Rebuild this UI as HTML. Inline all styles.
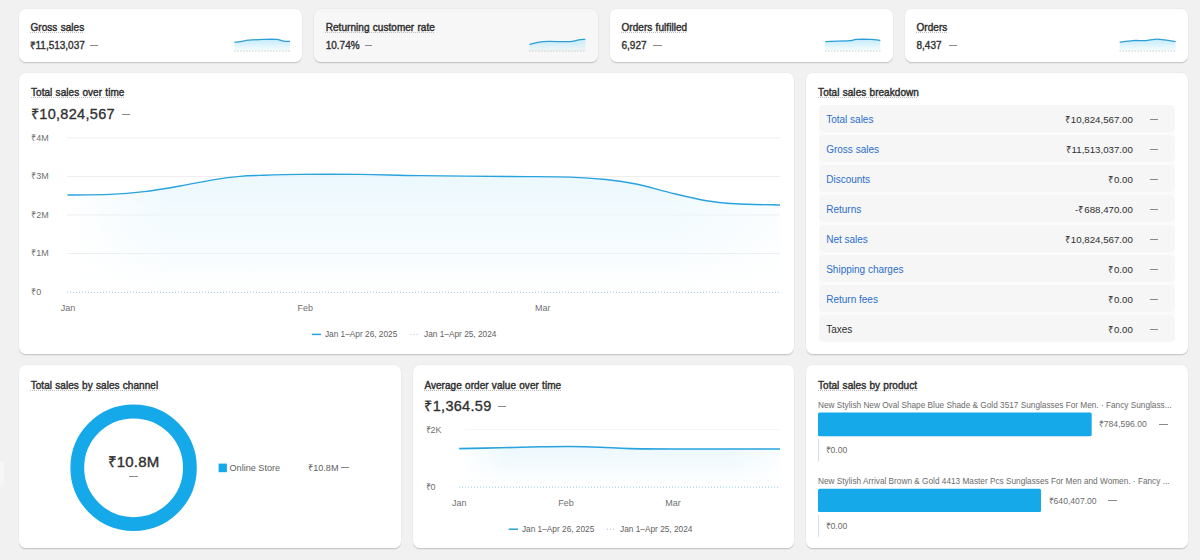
<!DOCTYPE html>
<html><head><meta charset="utf-8"><style>
*{box-sizing:border-box;margin:0;padding:0}
html,body{width:1200px;height:560px;overflow:hidden;background:#f1f1f1;font-family:"Liberation Sans",sans-serif;color:#303030;position:relative}
.card{position:absolute;border-radius:6.5px;box-shadow:0 1px 0 rgba(0,0,0,.1),0 1.5px 1px rgba(0,0,0,.05),0 0 0 .5px rgba(0,0,0,.04)}
.t{position:absolute;white-space:nowrap;line-height:12px}
.ttl{font-size:10px;word-spacing:.4px;letter-spacing:.05px;color:#303030;-webkit-text-stroke:.42px #303030}
.ttl span{text-decoration:underline dotted #bdbdbd;text-decoration-thickness:1px;text-underline-offset:1.2px;text-decoration-skip-ink:none}
.val{font-size:10px;letter-spacing:0;color:#303030;-webkit-text-stroke:.35px #303030}
.big{font-size:14.5px;letter-spacing:.3px;line-height:18px;color:#303030;-webkit-text-stroke:.32px #303030}
.donut{font-size:15px;letter-spacing:.2px;line-height:18px;color:#303030;-webkit-text-stroke:.38px #303030}
.dash{position:absolute;height:1px}
.ax{font-size:9px;color:#707070}
.lg{font-size:8.3px;color:#616161}
.brow{position:absolute;left:818.5px;width:356.5px;height:27.5px;background:#f6f6f6;border-radius:5px}
.bwrap{position:absolute;left:818.5px;top:104.6px;width:356.5px;height:237.5px;background:#fbfbfb;border-radius:5px}
.bn{font-size:10px;color:#2c6ecb}
.bn.tx{color:#303030}
.bv{font-size:9.7px;color:#303030}
.leg2{font-size:9.1px;color:#616161}
.pn{font-size:8.25px;color:#6b6b6b}
.pv{font-size:8.6px;color:#6b6b6b}
</style></head><body>
<div style="position:absolute;left:0;top:462px;width:3.5px;height:23px;background:#f6f6f6;border-radius:0 3px 3px 0"></div><div class="card" style="left:19px;top:9px;width:283px;height:52.7px;background:#fff"></div>
<div class="card" style="left:314px;top:9px;width:284px;height:52.7px;background:#f7f7f7"></div>
<div class="card" style="left:610px;top:9px;width:283px;height:52.7px;background:#fff"></div>
<div class="card" style="left:905px;top:9px;width:283px;height:52.7px;background:#fff"></div>
<div class="card" style="left:19px;top:73.4px;width:775px;height:280.4px;background:#fff"></div>
<div class="card" style="left:806px;top:73.4px;width:382px;height:280.4px;background:#fff"></div>
<div class="card" style="left:19px;top:364.9px;width:382px;height:183.5px;background:#fff"></div>
<div class="card" style="left:413px;top:364.9px;width:381px;height:183.5px;background:#fff"></div>
<div class="card" style="left:806px;top:364.9px;width:382px;height:183.5px;background:#fff"></div>
<svg style="position:absolute;left:0;top:0" width="1200" height="560" viewBox="0 0 1200 560"><defs><linearGradient id="gm" x1="0" y1="0" x2="0" y2="1"><stop offset="0" stop-color="#e9f7fd" stop-opacity=".85"/><stop offset=".6" stop-color="#e9f7fd" stop-opacity=".4"/><stop offset="1" stop-color="#e9f7fd" stop-opacity="0"/></linearGradient><linearGradient id="gh" x1="0" y1="0" x2="1" y2="0"><stop offset="0" stop-color="#fff" stop-opacity="0"/><stop offset=".14" stop-color="#fff" stop-opacity="1"/><stop offset=".85" stop-color="#fff" stop-opacity="1"/><stop offset="1" stop-color="#fff" stop-opacity=".3"/></linearGradient><mask id="mm" maskUnits="userSpaceOnUse" x="0" y="0" width="1200" height="560"><rect x="67" y="100" width="713" height="200" fill="url(#gh)"/></mask><mask id="ma" maskUnits="userSpaceOnUse" x="0" y="0" width="1200" height="560"><rect x="459" y="400" width="321" height="100" fill="url(#gh)"/></mask><linearGradient id="gs" x1="0" y1="0" x2="0" y2="1"><stop offset="0" stop-color="#c4ebfa" stop-opacity="1"/><stop offset="1" stop-color="#c4ebfa" stop-opacity=".1"/></linearGradient></defs><line x1="67" x2="780" y1="137.9" y2="137.9" stroke="#eeeeee" stroke-width="1"/><line x1="67" x2="780" y1="176.5" y2="176.5" stroke="#eeeeee" stroke-width="1"/><line x1="67" x2="780" y1="214.9" y2="214.9" stroke="#eeeeee" stroke-width="1"/><line x1="67" x2="780" y1="253.5" y2="253.5" stroke="#eeeeee" stroke-width="1"/><path d="M67.50,195.00 C74.58,194.90 97.25,194.97 110.00,194.40 C122.75,193.83 132.33,193.00 144.00,191.60 C155.67,190.20 168.00,188.03 180.00,186.00 C192.00,183.97 206.00,181.00 216.00,179.40 C226.00,177.80 232.67,177.07 240.00,176.40 C247.33,175.73 250.00,175.73 260.00,175.40 C270.00,175.07 283.33,174.57 300.00,174.40 C316.67,174.23 340.00,174.20 360.00,174.40 C380.00,174.60 395.00,175.25 420.00,175.60 C445.00,175.95 485.00,176.25 510.00,176.50 C535.00,176.75 554.00,176.60 570.00,177.10 C586.00,177.60 595.00,178.35 606.00,179.50 C617.00,180.65 625.50,181.85 636.00,184.00 C646.50,186.15 657.50,189.65 669.00,192.40 C680.50,195.15 694.00,198.60 705.00,200.50 C716.00,202.40 722.50,203.05 735.00,203.80 C747.50,204.55 772.50,204.80 780.00,205.00 L780.00,292.00 L67.50,292.00 Z" fill="url(#gm)" mask="url(#mm)"/><line x1="67" x2="780" y1="292.3" y2="292.3" stroke="#93cbe6" stroke-width="1" stroke-dasharray="1 2"/><path d="M67.50,195.00 C74.58,194.90 97.25,194.97 110.00,194.40 C122.75,193.83 132.33,193.00 144.00,191.60 C155.67,190.20 168.00,188.03 180.00,186.00 C192.00,183.97 206.00,181.00 216.00,179.40 C226.00,177.80 232.67,177.07 240.00,176.40 C247.33,175.73 250.00,175.73 260.00,175.40 C270.00,175.07 283.33,174.57 300.00,174.40 C316.67,174.23 340.00,174.20 360.00,174.40 C380.00,174.60 395.00,175.25 420.00,175.60 C445.00,175.95 485.00,176.25 510.00,176.50 C535.00,176.75 554.00,176.60 570.00,177.10 C586.00,177.60 595.00,178.35 606.00,179.50 C617.00,180.65 625.50,181.85 636.00,184.00 C646.50,186.15 657.50,189.65 669.00,192.40 C680.50,195.15 694.00,198.60 705.00,200.50 C716.00,202.40 722.50,203.05 735.00,203.80 C747.50,204.55 772.50,204.80 780.00,205.00" fill="none" stroke="#29a3dd" stroke-width="1.4"/><line x1="311.8" x2="321" y1="334.4" y2="334.4" stroke="#29a3dd" stroke-width="1.5"/><line x1="410.5" x2="419" y1="334.4" y2="334.4" stroke="#9fbfd0" stroke-width="1" stroke-dasharray="1 2"/><line x1="465" x2="780" y1="429.5" y2="429.5" stroke="#f6f6f6" stroke-width="1"/><path d="M459.20,448.60 C466.00,448.47 486.53,448.10 500.00,447.80 C513.47,447.50 528.33,447.02 540.00,446.80 C551.67,446.58 560.00,446.43 570.00,446.50 C580.00,446.57 590.00,446.85 600.00,447.20 C610.00,447.55 616.67,448.30 630.00,448.60 C643.33,448.90 663.33,448.93 680.00,449.00 C696.67,449.07 713.33,449.00 730.00,449.00 C746.67,449.00 771.67,449.00 780.00,449.00 L780.00,487.00 L459.20,487.00 Z" fill="url(#gm)" mask="url(#ma)"/><line x1="459" x2="780" y1="487.2" y2="487.2" stroke="#93cbe6" stroke-width="1" stroke-dasharray="1 2"/><path d="M459.20,448.60 C466.00,448.47 486.53,448.10 500.00,447.80 C513.47,447.50 528.33,447.02 540.00,446.80 C551.67,446.58 560.00,446.43 570.00,446.50 C580.00,446.57 590.00,446.85 600.00,447.20 C610.00,447.55 616.67,448.30 630.00,448.60 C643.33,448.90 663.33,448.93 680.00,449.00 C696.67,449.07 713.33,449.00 730.00,449.00 C746.67,449.00 771.67,449.00 780.00,449.00" fill="none" stroke="#29a3dd" stroke-width="1.6"/><line x1="508.7" x2="518" y1="529.2" y2="529.2" stroke="#29a3dd" stroke-width="1.5"/><line x1="607" x2="616" y1="529.2" y2="529.2" stroke="#9fbfd0" stroke-width="1" stroke-dasharray="1 2"/><path d="M234.40,42.20 C235.43,42.10 238.21,41.93 240.60,41.60 C242.99,41.27 244.89,40.57 248.75,40.20 C252.61,39.83 259.17,39.53 263.75,39.40 C268.33,39.27 272.92,39.12 276.25,39.40 C279.58,39.68 281.46,40.77 283.75,41.10 C286.04,41.43 288.96,41.35 290.00,41.40 L290.00,51.00 L234.40,51.00 Z" fill="url(#gs)"/><line x1="234.4" x2="290.0" y1="51" y2="51" stroke="#b0b0b0" stroke-width="1" stroke-dasharray="1 2"/><path d="M234.40,42.20 C235.43,42.10 238.21,41.93 240.60,41.60 C242.99,41.27 244.89,40.57 248.75,40.20 C252.61,39.83 259.17,39.53 263.75,39.40 C268.33,39.27 272.92,39.12 276.25,39.40 C279.58,39.68 281.46,40.77 283.75,41.10 C286.04,41.43 288.96,41.35 290.00,41.40" fill="none" stroke="#2e9fd6" stroke-width="1.3"/><path d="M529.40,44.40 C531.67,43.93 536.23,42.07 543.00,41.60 C549.77,41.13 563.83,41.93 570.00,41.60 C576.17,41.27 577.45,39.97 580.00,39.60 C582.55,39.23 584.42,39.43 585.30,39.40 L585.30,51.00 L529.40,51.00 Z" fill="url(#gs)"/><line x1="529.4" x2="585.3" y1="51" y2="51" stroke="#b0b0b0" stroke-width="1" stroke-dasharray="1 2"/><path d="M529.40,44.40 C531.67,43.93 536.23,42.07 543.00,41.60 C549.77,41.13 563.83,41.93 570.00,41.60 C576.17,41.27 577.45,39.97 580.00,39.60 C582.55,39.23 584.42,39.43 585.30,39.40" fill="none" stroke="#2e9fd6" stroke-width="1.3"/><path d="M825.30,41.60 C829.42,41.43 844.88,40.97 850.00,40.60 C855.12,40.23 852.50,39.60 856.00,39.40 C859.50,39.20 866.95,39.25 871.00,39.40 C875.05,39.55 878.75,40.15 880.30,40.30 L880.30,51.00 L825.30,51.00 Z" fill="url(#gs)"/><line x1="825.3" x2="880.3" y1="51" y2="51" stroke="#b0b0b0" stroke-width="1" stroke-dasharray="1 2"/><path d="M825.30,41.60 C829.42,41.43 844.88,40.97 850.00,40.60 C855.12,40.23 852.50,39.60 856.00,39.40 C859.50,39.20 866.95,39.25 871.00,39.40 C875.05,39.55 878.75,40.15 880.30,40.30" fill="none" stroke="#2e9fd6" stroke-width="1.3"/><path d="M1119.70,42.20 C1121.92,41.93 1128.78,40.87 1133.00,40.60 C1137.22,40.33 1141.50,40.80 1145.00,40.60 C1148.50,40.40 1151.50,39.60 1154.00,39.40 C1156.50,39.20 1156.40,39.03 1160.00,39.40 C1163.60,39.77 1173.00,41.23 1175.60,41.60 L1175.60,51.00 L1119.70,51.00 Z" fill="url(#gs)"/><line x1="1119.7" x2="1175.6" y1="51" y2="51" stroke="#b0b0b0" stroke-width="1" stroke-dasharray="1 2"/><path d="M1119.70,42.20 C1121.92,41.93 1128.78,40.87 1133.00,40.60 C1137.22,40.33 1141.50,40.80 1145.00,40.60 C1148.50,40.40 1151.50,39.60 1154.00,39.40 C1156.50,39.20 1156.40,39.03 1160.00,39.40 C1163.60,39.77 1173.00,41.23 1175.60,41.60" fill="none" stroke="#2e9fd6" stroke-width="1.3"/><circle cx="133.6" cy="467.8" r="56.3" fill="none" stroke="#15a9ea" stroke-width="13.8"/><rect x="218.6" y="463.6" width="8.3" height="8.6" fill="#15a9ea"/><rect x="818" y="412.6" width="273.7" height="23.6" rx="1.5" fill="#15a9ea"/><rect x="818" y="488.7" width="223" height="23.3" rx="1.5" fill="#15a9ea"/><rect x="818" y="438.9" width="1" height="22.5" fill="#d3dee6"/><rect x="818" y="515" width="1" height="21.7" fill="#d3dee6"/></svg>
<div class="t ttl" style="left:30.5px;top:21.9px;"><span>Gross sales</span></div>
<div class="t val" style="left:29.5px;top:39.8px;">₹11,513,037</div>
<div class="t ttl" style="left:325.7px;top:21.9px;"><span>Returning customer rate</span></div>
<div class="t val" style="left:325.7px;top:39.8px;">10.74%</div>
<div class="t ttl" style="left:621.5px;top:21.9px;"><span>Orders fulfilled</span></div>
<div class="t val" style="left:621.5px;top:39.8px;">6,927</div>
<div class="t ttl" style="left:916.5px;top:21.9px;"><span>Orders</span></div>
<div class="t val" style="left:916.5px;top:39.8px;">8,437</div>
<div class="dash" style="left:90.0px;top:44.5px;width:8.0px;background:#8a8a8a"></div>
<div class="dash" style="left:364.5px;top:44.5px;width:7.5px;background:#8a8a8a"></div>
<div class="dash" style="left:653.0px;top:44.5px;width:8.5px;background:#8a8a8a"></div>
<div class="dash" style="left:949.0px;top:44.5px;width:8.0px;background:#8a8a8a"></div>
<div class="t ttl" style="left:31.0px;top:86.8px;"><span>Total sales over time</span></div>
<div class="t big" style="left:31.0px;top:104.5px;">₹10,824,567</div>
<div class="dash" style="left:121.5px;top:113.5px;width:8.5px;background:#8a8a8a"></div>
<div class="t ax" style="left:31.3px;top:131.7px;">₹4M</div>
<div class="t ax" style="left:31.3px;top:170.4px;">₹3M</div>
<div class="t ax" style="left:31.3px;top:208.6px;">₹2M</div>
<div class="t ax" style="left:31.3px;top:247.4px;">₹1M</div>
<div class="t ax" style="left:31.3px;top:285.8px;">₹0</div>
<div class="t ax" style="left:68.0px;top:301.7px;width:0;"><div style="position:absolute;left:0;transform:translateX(-50%)">Jan</div></div>
<div class="t ax" style="left:305.3px;top:301.7px;width:0;"><div style="position:absolute;left:0;transform:translateX(-50%)">Feb</div></div>
<div class="t ax" style="left:542.7px;top:301.7px;width:0;"><div style="position:absolute;left:0;transform:translateX(-50%)">Mar</div></div>
<div class="t lg" style="left:324.9px;top:328.4px;">Jan 1–Apr 26, 2025</div>
<div class="t lg" style="left:424.0px;top:328.4px;">Jan 1–Apr 25, 2024</div>
<div class="t ttl" style="left:818.1px;top:86.8px;"><span>Total sales breakdown</span></div>
<div class="bwrap"></div>
<div class="brow" style="top:104.6px"></div>
<div class="t bn" style="left:826.2px;top:114.0px;">Total sales</div>
<div class="t bv" style="right:67.2px;top:114.0px;">₹10,824,567.00</div>
<div class="dash" style="left:1150.0px;top:119.1px;width:7.8px;background:#8a8a8a"></div>
<div class="brow" style="top:134.6px"></div>
<div class="t bn" style="left:826.2px;top:144.0px;">Gross sales</div>
<div class="t bv" style="right:67.2px;top:144.0px;">₹11,513,037.00</div>
<div class="dash" style="left:1150.0px;top:149.1px;width:7.8px;background:#8a8a8a"></div>
<div class="brow" style="top:164.6px"></div>
<div class="t bn" style="left:826.2px;top:174.0px;">Discounts</div>
<div class="t bv" style="right:67.2px;top:174.0px;">₹0.00</div>
<div class="dash" style="left:1150.0px;top:179.1px;width:7.8px;background:#8a8a8a"></div>
<div class="brow" style="top:194.6px"></div>
<div class="t bn" style="left:826.2px;top:204.0px;">Returns</div>
<div class="t bv" style="right:67.2px;top:204.0px;">-₹688,470.00</div>
<div class="dash" style="left:1150.0px;top:209.1px;width:7.8px;background:#8a8a8a"></div>
<div class="brow" style="top:224.6px"></div>
<div class="t bn" style="left:826.2px;top:234.0px;">Net sales</div>
<div class="t bv" style="right:67.2px;top:234.0px;">₹10,824,567.00</div>
<div class="dash" style="left:1150.0px;top:239.1px;width:7.8px;background:#8a8a8a"></div>
<div class="brow" style="top:254.6px"></div>
<div class="t bn" style="left:826.2px;top:264.0px;">Shipping charges</div>
<div class="t bv" style="right:67.2px;top:264.0px;">₹0.00</div>
<div class="dash" style="left:1150.0px;top:269.1px;width:7.8px;background:#8a8a8a"></div>
<div class="brow" style="top:284.6px"></div>
<div class="t bn" style="left:826.2px;top:294.0px;">Return fees</div>
<div class="t bv" style="right:67.2px;top:294.0px;">₹0.00</div>
<div class="dash" style="left:1150.0px;top:299.1px;width:7.8px;background:#8a8a8a"></div>
<div class="brow" style="top:314.6px"></div>
<div class="t bn tx" style="left:826.2px;top:324.0px;">Taxes</div>
<div class="t bv" style="right:67.2px;top:324.0px;">₹0.00</div>
<div class="dash" style="left:1150.0px;top:329.1px;width:7.8px;background:#8a8a8a"></div>
<div class="t ttl" style="left:30.7px;top:379.6px;"><span>Total sales by sales channel</span></div>
<div class="t donut" style="left:133.5px;top:452.7px;width:0;"><div style="position:absolute;left:0;transform:translateX(-50%)">₹10.8M</div></div>
<div class="dash" style="left:129.4px;top:476.2px;width:8.6px;background:#8a8a8a"></div>
<div class="t leg2" style="left:229.5px;top:461.7px;">Online Store</div>
<div class="t leg2" style="left:308.2px;top:461.7px;">₹10.8M</div>
<div class="dash" style="left:340.5px;top:467.0px;width:8.2px;background:#8a8a8a"></div>
<div class="t ttl" style="left:424.4px;top:379.6px;"><span>Average order value over time</span></div>
<div class="t big" style="left:424.4px;top:397.2px;">₹1,364.59</div>
<div class="dash" style="left:498.0px;top:406.0px;width:7.7px;background:#8a8a8a"></div>
<div class="t ax" style="left:425.5px;top:423.5px;">₹2K</div>
<div class="t ax" style="left:425.5px;top:480.9px;">₹0</div>
<div class="t ax" style="left:459.2px;top:497.0px;width:0;"><div style="position:absolute;left:0;transform:translateX(-50%)">Jan</div></div>
<div class="t ax" style="left:566.0px;top:497.0px;width:0;"><div style="position:absolute;left:0;transform:translateX(-50%)">Feb</div></div>
<div class="t ax" style="left:673.0px;top:497.0px;width:0;"><div style="position:absolute;left:0;transform:translateX(-50%)">Mar</div></div>
<div class="t lg" style="left:521.9px;top:523.2px;">Jan 1–Apr 26, 2025</div>
<div class="t lg" style="left:620.0px;top:523.2px;">Jan 1–Apr 25, 2024</div>
<div class="t ttl" style="left:818.0px;top:379.6px;"><span>Total sales by product</span></div>
<div class="t pn" style="left:818.0px;top:400.0px;">New Stylish New Oval Shape Blue Shade &amp; Gold 3517 Sunglasses For Men. · Fancy Sunglass...</div>
<div class="t pv" style="left:1098.8px;top:418.2px;">₹784,596.00</div>
<div class="dash" style="left:1158.8px;top:423.5px;width:9.4px;background:#8a8a8a"></div>
<div class="t pv" style="left:825.5px;top:444.1px;">₹0.00</div>
<div class="t pn" style="left:818.0px;top:475.7px;">New Stylish Arrival Brown &amp; Gold 4413 Master Pcs Sunglasses For Men and Women. · Fancy ...</div>
<div class="t pv" style="left:1048.6px;top:494.7px;">₹640,407.00</div>
<div class="dash" style="left:1108.0px;top:500.0px;width:8.8px;background:#8a8a8a"></div>
<div class="t pv" style="left:825.5px;top:519.5px;">₹0.00</div>
</body></html>
